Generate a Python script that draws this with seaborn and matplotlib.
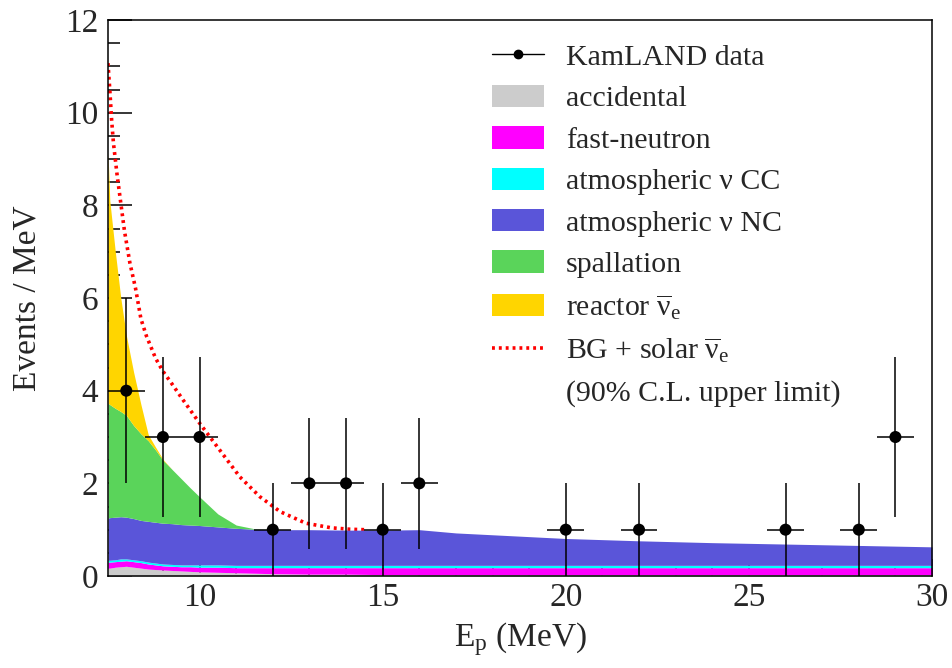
import numpy as np
import pandas as pd
import seaborn as sns
from matplotlib import pyplot as plt
from matplotlib.lines import Line2D
from matplotlib.patches import Patch
from matplotlib.ticker import MultipleLocator

# energy grid for the background spectra (MeV)
energy = [7.5, 7.55, 7.7, 7.85, 8.0, 8.2, 8.4, 8.6, 8.8, 9.0, 9.25, 9.5, 9.75, 10.0, 10.5,
          11.0, 11.5, 12.0, 13, 14, 15, 16, 17, 18, 19, 20, 22, 24, 26, 28, 30]

# background components (events / MeV), stacked bottom to top
accidental = [0.17, 0.17, 0.19, 0.20, 0.21, 0.19, 0.17, 0.15, 0.14, 0.13, 0.12, 0.11, 0.10, 0.09, 0.08,
              0.07, 0.06, 0.05, 0.04, 0.04, 0.03, 0.03, 0.03, 0.03, 0.03, 0.03, 0.03, 0.03, 0.03, 0.03, 0.03]
fast_neutron = [0.13, 0.13, 0.12, 0.12, 0.12, 0.12, 0.12, 0.11, 0.10, 0.09, 0.09, 0.09, 0.10, 0.10, 0.11,
                0.11, 0.12, 0.13, 0.14, 0.14, 0.15, 0.15, 0.15, 0.15, 0.15, 0.15, 0.15, 0.15, 0.15, 0.15, 0.15]
atm_cc = [0.04, 0.04, 0.04, 0.05, 0.04, 0.04, 0.04, 0.04, 0.04, 0.04, 0.04, 0.04, 0.04, 0.05, 0.05,
          0.05, 0.05, 0.05, 0.05, 0.05, 0.05, 0.05, 0.05, 0.05, 0.05, 0.05, 0.05, 0.05, 0.05, 0.05, 0.05]
atm_nc = [0.91, 0.92, 0.92, 0.91, 0.90, 0.89, 0.87, 0.88, 0.88, 0.88, 0.88, 0.87, 0.86, 0.85, 0.82,
          0.80, 0.78, 0.77, 0.77, 0.76, 0.76, 0.77, 0.70, 0.66, 0.62, 0.58, 0.53, 0.49, 0.46, 0.43, 0.40]
spallation = [2.48, 2.44, 2.35, 2.27, 2.20, 2.01, 1.87, 1.74, 1.56, 1.36, 1.17, 0.99, 0.80, 0.62, 0.28,
              0.07, 0.01, 0, 0, 0, 0, 0, 0, 0, 0, 0, 0, 0, 0, 0, 0]
reactor = [5.42, 4.40, 3.38, 2.45, 1.73, 1.15, 0.63, 0.13, 0.06, 0.02, 0, 0, 0, 0, 0,
           0, 0, 0, 0, 0, 0, 0, 0, 0, 0, 0, 0, 0, 0, 0, 0]

# BG + solar anti-nu 90% C.L. upper limit (merges into the BG stack above ~14.5 MeV)
energy_ul = [7.5, 7.55, 7.6, 7.65, 7.75, 7.85, 7.95, 8.1, 8.25, 8.4, 8.55, 8.8, 9.0, 9.2, 9.55,
             10.0, 10.55, 11.1, 11.65, 12.2, 12.9, 13.6, 14.1, 14.5]
bg_solar_ul = [11.07, 10.49, 9.84, 9.34, 8.65, 8.05, 7.45, 6.75, 6.22, 5.55, 5.18, 4.70, 4.42, 4.20, 3.80,
               3.30, 2.72, 2.14, 1.71, 1.39, 1.14, 1.04, 1.01, 1.0]

# KamLAND data
data_e = [8, 9, 10, 12, 13, 14, 15, 16, 20, 22, 26, 28, 29]
data_n = [4, 3, 3, 1, 2, 2, 1, 2, 1, 1, 1, 1, 3]

labels = ["accidental", "fast-neutron", "atmospheric ν CC", "atmospheric ν NC", "spallation",
          r"reactor $\overline{\mathrm{ν}}_\mathrm{e}$"]
colors = ["#cccccc", "#ff00ff", "#00ffff", "#5a55d9", "#5ad45a", "#ffd500"]

sns.set_theme(style="ticks")
plt.rcParams['font.family'] = ['Liberation Serif', 'DejaVu Serif']
plt.rcParams['mathtext.fontset'] = 'custom'
plt.rcParams['mathtext.rm'] = 'Liberation Serif'
plt.rcParams['mathtext.it'] = 'Liberation Serif:italic'

fig = plt.figure(figsize=(9.53, 6.68), dpi=100)
ax = fig.add_axes([0.1133, 0.1377, 0.8647, 0.8323])

# stacked backgrounds
comps = np.array([accidental, fast_neutron, atm_cc, atm_nc, spallation, reactor])
tops = np.cumsum(comps, axis=0)
bottom = np.zeros(len(energy))
for top, col in zip(tops, colors):
    ax.fill_between(energy, bottom, top, color=col, lw=0, zorder=2)
    bottom = top

# upper limit curve
ul = pd.DataFrame({"E": energy_ul, "y": bg_solar_ul})
sns.lineplot(data=ul, x="E", y="y", color="red", lw=2.6, linestyle=(0, (0.8, 1.1)), ax=ax, zorder=1.5)

# data points with sqrt(N) errors
df = pd.DataFrame({"E": data_e, "N": data_n})
ax.errorbar(df["E"], df["N"], xerr=0.5, yerr=np.sqrt(df["N"]), fmt="none",
            ecolor="black", elinewidth=1.1, zorder=4)
sns.scatterplot(data=df, x="E", y="N", color="black", s=75, edgecolor="none", ax=ax, zorder=5)

ax.set_xlim(7.5, 30)
ax.set_ylim(0, 12)
ax.xaxis.set_major_locator(MultipleLocator(5))
ax.xaxis.set_minor_locator(MultipleLocator(1))
ax.yaxis.set_major_locator(MultipleLocator(2))
ax.yaxis.set_minor_locator(MultipleLocator(0.5))
ax.tick_params(axis="both", which="both", direction="in", top=False, right=False,
               labelsize=24, color="black", width=1.1)
ax.tick_params(axis="x", which="major", length=12, pad=5)
ax.tick_params(axis="x", which="minor", length=6)
ax.tick_params(axis="y", which="major", length=17.5, pad=7)
ax.tick_params(axis="y", which="minor", length=8.5)
for sp in ax.spines.values():
    sp.set_visible(True)
    sp.set_color("black")
    sp.set_linewidth(1.1)
    sp.set_zorder(6)

ax.set_xlabel(r"E$_\mathrm{p}$ (MeV)", fontsize=24, labelpad=5)
ax.set_ylabel("Events / MeV", fontsize=24, labelpad=16)

handles = [Line2D([0], [0], color="black", lw=1, marker="o", markersize=6)]
handles += [Patch(facecolor=c, edgecolor="none") for c in colors]
handles += [Line2D([0], [0], color="red", lw=2.6, linestyle=(0, (0.8, 1.1))),
            Patch(facecolor="none", edgecolor="none")]
leg_labels = ["KamLAND data"] + labels + [r"BG + solar $\overline{\mathrm{ν}}_\mathrm{e}$",
                                          "(90% C.L. upper limit)"]
ax.legend(handles, leg_labels, loc="upper left", bbox_to_anchor=(0.516, 0.935),
          bbox_transform=fig.transFigure, frameon=False, fontsize=21.5,
          handlelength=1.74, handleheight=0.77, handletextpad=0.74, labelspacing=0.465,
          borderpad=0, borderaxespad=0)

plt.savefig("out.png", dpi=100)
